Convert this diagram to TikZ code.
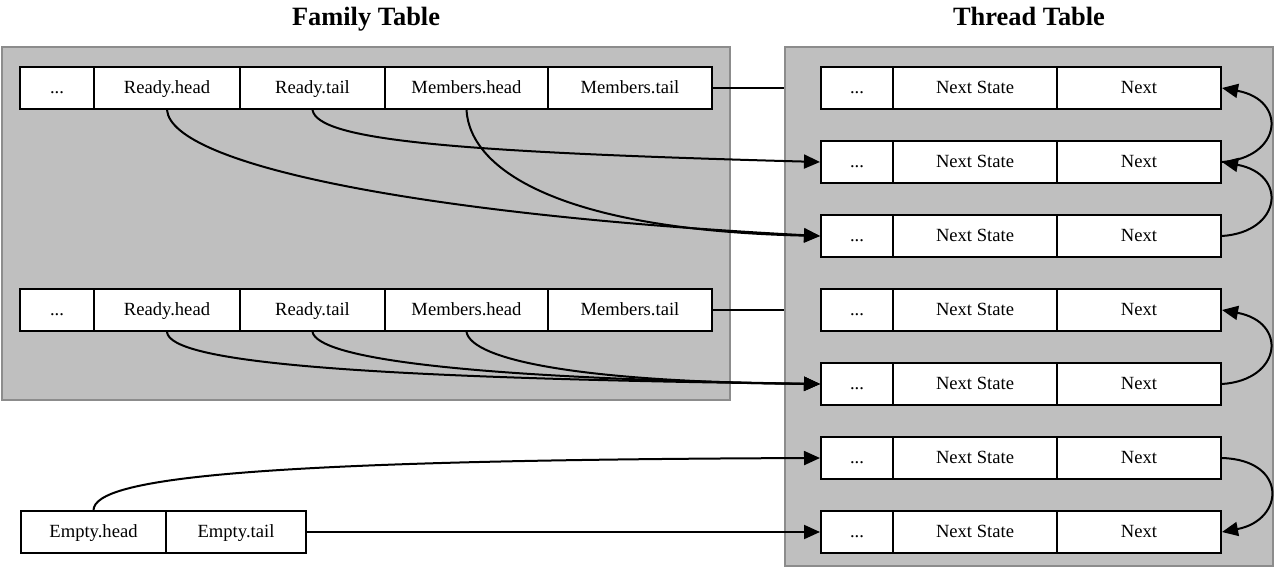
\documentclass[tikz,border=0pt]{standalone}
\usepackage{fontspec}
\setmainfont{Liberation Serif}
\usetikzlibrary{arrows.meta}
\begin{document}
\begin{tikzpicture}[x=0.5pt,y=-0.5pt,
  cell/.style={draw, fill=white, line width=1pt, minimum height=21pt, inner sep=0pt,
    text height=6.1pt, text depth=0.2pt,
    font=\fontsize{9.3pt}{11pt}\selectfont},
  cluster/.style={draw=black!45, fill=black!25, line width=1pt, inner sep=0pt},
  heading/.style={font=\fontsize{13.2pt}{15pt}\selectfont\bfseries,
    text height=9pt, text depth=2.8pt, inner sep=0pt},
  link/.style={line width=1pt, -{Triangle[length=8pt,width=7pt]}},
  plainlink/.style={line width=0.9pt}]
\useasboundingbox (0,0) rectangle (1275,568);

% clusters and their headings
\node[cluster, minimum width=364pt, minimum height=176.5pt] (fbox) at (366,223.5) {};
\node[cluster, minimum width=244pt, minimum height=259.5pt] (tbox) at (1029,306.5) {};
\node[heading] (ftitle) at (366,19) {Family Table};
\node[heading] (ttitle) at (1029,19) {Thread Table};

% family table rows
\foreach \r/\y in {1/88, 2/310} {
  \node[cell, minimum width=37pt]   (f\r d)  at (57,\y)    {...};
  \node[cell, minimum width=73pt]   (f\r rh) at (167,\y)   {Ready.head};
  \node[cell, minimum width=72.5pt] (f\r rt) at (312.5,\y) {Ready.tail};
  \node[cell, minimum width=81.5pt] (f\r mh) at (466.5,\y) {Members.head};
  \node[cell, minimum width=82pt]   (f\r mt) at (630,\y)   {Members.tail};
}

% thread table rows
\foreach \r in {1,...,7} {
  \pgfmathsetmacro{\yy}{88+74*(\r-1)}
  \node[cell, minimum width=36pt] (t\r d)  at (857,\yy)  {...};
  \node[cell, minimum width=82pt] (t\r ns) at (975,\yy)  {Next State};
  \node[cell, minimum width=82pt] (t\r nx) at (1139,\yy) {Next};
}

% empty list record
\node[cell, minimum width=72.5pt] (eh) at (93.5,532) {Empty.head};
\node[cell, minimum width=70pt]   (et) at (236,532)  {Empty.tail};

% family rows attached to the thread table
\draw[plainlink] (f1mt.east) -- (f1mt.east -| tbox.west);
\draw[plainlink] (f2mt.east) -- (f2mt.east -| tbox.west);

% first family
\draw[link] (f1rh.south) .. controls (172,165) and (420,215) .. (t3d.west);
\draw[link] (f1rt.south) .. controls (318,140) and (450,152) .. (t2d.west);
\draw[link] (f1mh.south) .. controls (470,170) and (560,230) .. (t3d.west);

% second family
\draw[link] (f2rh.south) .. controls (170,362) and (350,378) .. (t5d.west);
\draw[link] (f2rt.south) .. controls (318,357) and (450,378) .. (t5d.west);
\draw[link] (f2mh.south) .. controls (472,360) and (580,382) .. (t5d.west);

% empty list
\draw[link] (eh.north) .. controls (95,478) and (250,460) .. (t6d.west);
\draw[link] (et.east) -- (t7d.west);

% next pointers
\draw[link] (t2nx.east) .. controls (1282,158) and (1288,100) .. (t1nx.east);
\draw[link] (t3nx.east) .. controls (1282,232) and (1288,174) .. (t2nx.east);
\draw[link] (t5nx.east) .. controls (1282,380) and (1288,322) .. (t4nx.east);
\draw[link] (t6nx.east) .. controls (1288,460) and (1285,520) .. (t7nx.east);
\end{tikzpicture}
\end{document}
